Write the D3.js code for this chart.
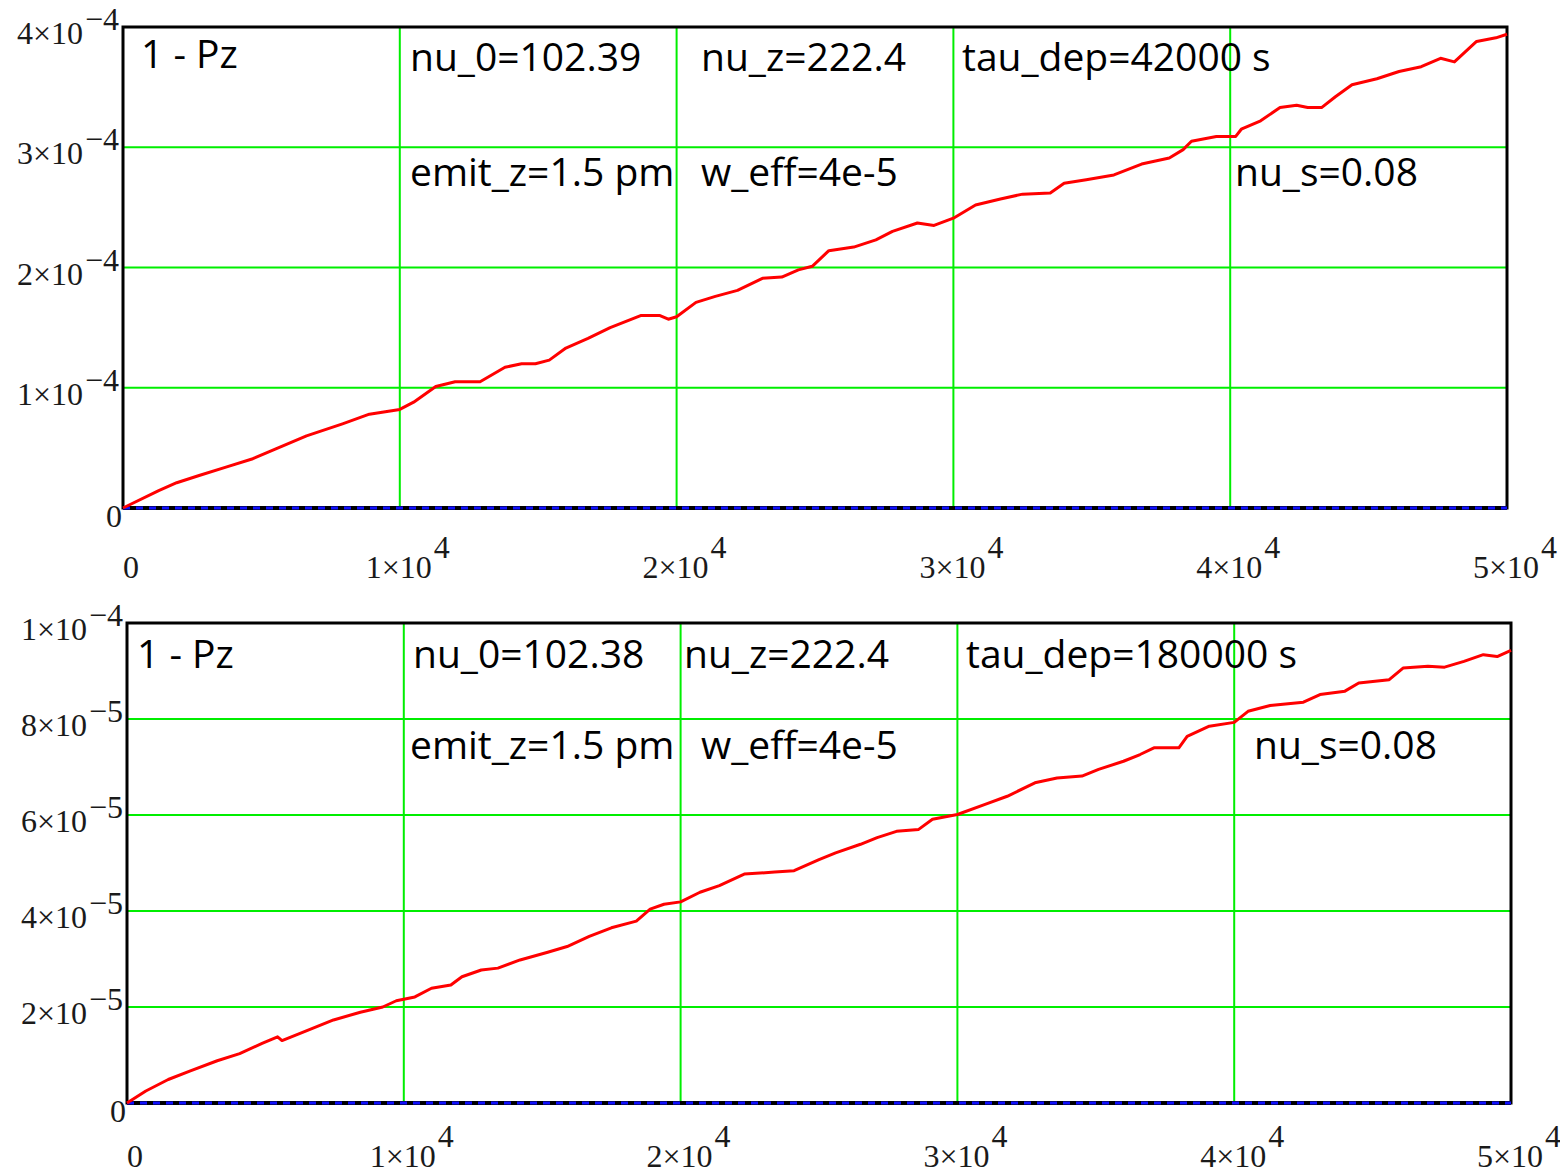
<!DOCTYPE html>
<html>
<head>
<meta charset="utf-8">
<script src="https://cdn.jsdelivr.net/npm/d3@7"></script>
<style>
  html, body { margin: 0; padding: 0; background: #fff; }
  svg { display: block; }
</style>
</head>
<body>
<div id="chart"></div>
<script>
// time axis (s), shared by both runs
const xTicks = [0, 10000, 20000, 30000, 40000, 50000]

// run 1: tau_dep = 42000 s, 1 - Pz in units of 1e-4
const timeTop = [0, 1290, 1940, 2750, 3720, 4690, 5500, 6630, 7930, 8900,
  10000, 10500, 11300, 12000, 12900, 13800, 14400, 14900, 15400, 16000,
  16800, 17600, 18700, 19400, 19700, 20000, 20700, 21400, 22200, 23100,
  23800, 24400, 24900, 25500, 26400, 27200, 27800, 28700, 29300, 30000,
  30800, 31700, 32500, 33500, 34000, 34800, 35800, 36800, 37800, 38300,
  38600, 39500, 40200, 40400, 41100, 41800, 42400, 42800, 43300, 43800,
  44400, 45300, 46100, 46900, 47600, 48100, 48900, 49600, 50000]
const pzTop = [0, 0.145, 0.21, 0.27, 0.34, 0.41, 0.49, 0.60, 0.70, 0.78,
  0.82, 0.88, 1.01, 1.05, 1.05, 1.17, 1.20, 1.20, 1.23, 1.33,
  1.41, 1.50, 1.60, 1.60, 1.57, 1.59, 1.71, 1.76, 1.81, 1.91,
  1.92, 1.98, 2.01, 2.14, 2.17, 2.23, 2.30, 2.37, 2.35, 2.41,
  2.52, 2.57, 2.61, 2.62, 2.70, 2.73, 2.77, 2.86, 2.91, 2.98,
  3.05, 3.09, 3.09, 3.15, 3.22, 3.33, 3.35, 3.33, 3.33, 3.42,
  3.52, 3.57, 3.63, 3.67, 3.74, 3.71, 3.88, 3.91, 3.94]
const yTicksTop = [0, 1, 2, 3, 4]
const notesTop = ['1 - Pz', 'nu_0=102.39', 'nu_z=222.4', 'tau_dep=42000 s',
  'emit_z=1.5 pm', 'w_eff=4e-5', 'nu_s=0.08']

// run 2: tau_dep = 180000 s, 1 - Pz in units of 1e-5
const timeBottom = [0, 680, 1490, 2290, 3260, 4070, 4880, 5440, 5600, 6500,
  7460, 8430, 9240, 9730, 10400, 11000, 11700, 12100, 12800, 13400,
  14200, 15200, 15900, 16700, 17500, 18400, 18900, 19400, 20000, 20700,
  21400, 22300, 23400, 24100, 25000, 25600, 26500, 27100, 27800, 28600,
  29100, 30000, 31000, 31800, 32800, 33600, 34500, 35100, 36000, 36600,
  37100, 38000, 38300, 39100, 40000, 40500, 41300, 42500, 43100, 44000,
  44500, 45600, 46100, 47000, 47600, 48300, 49000, 49500, 50000]
const pzBottom = [0, 0.25, 0.49, 0.67, 0.88, 1.03, 1.24, 1.38, 1.30, 1.51,
  1.73, 1.89, 2.00, 2.13, 2.21, 2.39, 2.46, 2.63, 2.77, 2.81,
  2.98, 3.14, 3.26, 3.47, 3.65, 3.79, 4.04, 4.14, 4.19, 4.39,
  4.53, 4.77, 4.81, 4.84, 5.07, 5.21, 5.39, 5.53, 5.66, 5.70,
  5.91, 6.01, 6.22, 6.39, 6.67, 6.77, 6.81, 6.95, 7.12, 7.26,
  7.40, 7.40, 7.64, 7.85, 7.93, 8.16, 8.28, 8.35, 8.51, 8.58,
  8.75, 8.82, 9.06, 9.10, 9.08, 9.20, 9.34, 9.30, 9.43]
const yTicksBottom = [0, 2, 4, 6, 8, 10]
const notesBottom = ['1 - Pz', 'nu_0=102.38', 'nu_z=222.4', 'tau_dep=180000 s',
  'emit_z=1.5 pm', 'w_eff=4e-5', 'nu_s=0.08']

const width = 1560
const height = 1176
const serif = '"Liberation Serif", "Times New Roman", serif'
const sans = '"Open Sans", "Noto Sans", sans-serif'

const svg = d3.select('#chart')
  .append('svg')
  .attr('width', width)
  .attr('height', height)

// panel layout (pixels) - kept apart from the data
const panels = [
  {
    time: timeTop, pz: pzTop, unit: 1e-4, yTicks: yTicksTop, notes: notesTop,
    box: { left: 123, top: 27, right: 1507, bottom: 508 },
    notePos: [[141, 68], [410, 71], [701, 71], [962, 71], [410, 186], [701, 186], [1235, 186]],
    xLabelY: 578,
  },
  {
    time: timeBottom, pz: pzBottom, unit: 1e-5, yTicks: yTicksBottom, notes: notesBottom,
    box: { left: 127, top: 623, right: 1511, bottom: 1103 },
    notePos: [[137, 668], [413, 668], [684, 668], [966, 668], [410, 759], [701, 759], [1254, 759]],
    xLabelY: 1167,
  },
]

/**
 * Split a value into Mathcad style "m×10" and exponent
 */
function sciParts(v) {
  const e = Math.floor(Math.log10(v) + 1e-9)
  const m = Math.round(v / Math.pow(10, e))
  return [m + '×10', (e < 0 ? '−' : '') + Math.abs(e)]
}

panels.forEach(p => drawPanel(p))

function drawPanel(p) {
  const { box } = p
  const x = d3.scaleLinear()
    .domain([0, 50000])
    .range([box.left, box.right])
  const y = d3.scaleLinear()
    .domain([0, d3.max(p.yTicks)])
    .range([box.bottom, box.top])

  const g = svg.append('g')

  // grid
  g.selectAll('.vgrid')
    .data(xTicks.slice(1, -1))
    .join('line')
    .attr('x1', d => x(d)).attr('x2', d => x(d))
    .attr('y1', box.top).attr('y2', box.bottom)
    .attr('stroke', '#00ee00')
    .attr('stroke-width', 2)

  g.selectAll('.hgrid')
    .data(p.yTicks.slice(1, -1))
    .join('line')
    .attr('x1', box.left).attr('x2', box.right)
    .attr('y1', d => y(d)).attr('y2', d => y(d))
    .attr('stroke', '#00ee00')
    .attr('stroke-width', 2)

  // frame
  g.append('rect')
    .attr('x', box.left)
    .attr('y', box.top)
    .attr('width', box.right - box.left)
    .attr('height', box.bottom - box.top)
    .attr('fill', 'none')
    .attr('stroke', '#000')
    .attr('stroke-width', 3)

  g.append('line')
    .attr('x1', box.left).attr('x2', box.right)
    .attr('y1', y(0)).attr('y2', y(0))
    .attr('stroke', '#000')
    .attr('stroke-width', 4)

  // zero trace (blue dashed)
  g.append('path')
    .datum([0, 50000])
    .attr('d', d3.line().x(d => x(d)).y(() => y(0)))
    .attr('stroke', '#1010ff')
    .attr('stroke-width', 3)
    .attr('stroke-dasharray', '7,6')
    .attr('fill', 'none')

  // 1 - Pz trace
  g.append('path')
    .datum(p.time.map((t, i) => [t, p.pz[i]]))
    .attr('d', d3.line().x(d => x(d[0])).y(d => y(d[1])))
    .attr('stroke', '#ff0000')
    .attr('stroke-width', 3)
    .attr('stroke-linejoin', 'round')
    .attr('fill', 'none')

  // y tick labels
  p.yTicks.forEach(v => {
    const t = g.append('text')
      .attr('font-family', serif)
      .attr('font-size', 32)
      .attr('fill', '#1a1a1a')
      .attr('text-anchor', 'end')
    if (v === 0) {
      t.attr('x', box.left - 1).attr('y', y(0) + 19).text('0')
      return
    }
    const [main, exp] = sciParts(v * p.unit)
    t.attr('x', box.left - 4).attr('y', y(v) + 17)
    t.append('tspan').text(main)
    t.append('tspan').attr('dy', -14).attr('dx', 2).text(exp)
  })

  // x tick labels
  xTicks.forEach(v => {
    const t = g.append('text')
      .attr('font-family', serif)
      .attr('font-size', 32)
      .attr('fill', '#1a1a1a')
      .attr('text-anchor', 'middle')
      .attr('x', x(v) + 8)
      .attr('y', p.xLabelY)
    if (v === 0) {
      t.text('0')
      return
    }
    const [main, exp] = sciParts(v)
    t.append('tspan').text(main)
    t.append('tspan').attr('dy', -20).attr('dx', 2).text(exp)
  })

  // parameter notes
  g.selectAll('.note')
    .data(p.notes)
    .join('text')
    .attr('class', 'note')
    .attr('x', (d, i) => p.notePos[i][0])
    .attr('y', (d, i) => p.notePos[i][1])
    .attr('font-family', sans)
    .attr('font-size', 39)
    .attr('fill', '#000')
    .text(d => d)
}
</script>
</body>
</html>
